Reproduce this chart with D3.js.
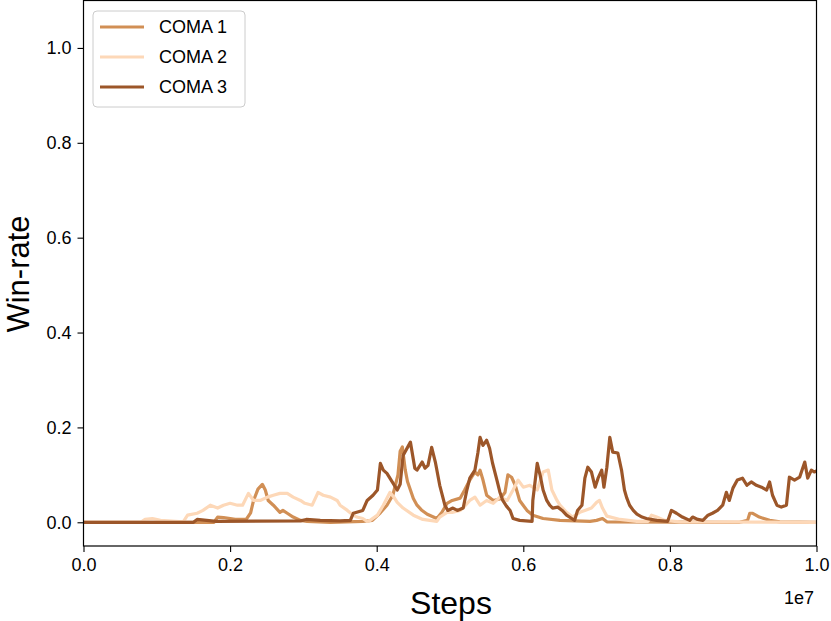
<!DOCTYPE html>
<html>
<head>
<meta charset="utf-8">
<script src="https://cdn.jsdelivr.net/npm/d3@7"></script>
<style>
  html, body { margin: 0; padding: 0; background: #fff; }
  svg { display: block; font-family: "Liberation Sans", Arial, sans-serif; }
</style>
</head>
<body>
<svg id="chart" width="831" height="621"></svg>
<script>
// ---- data (steps in millions, win-rate) ----
const seriesNames = ["COMA 1", "COMA 2", "COMA 3"];
const seriesColors = ["#d18f55", "#fdd8b8", "#9c5629"];

const coma1Steps = [0, 1.78, 1.83, 1.91, 2.07, 2.22, 2.28, 2.32, 2.38, 2.44, 2.48, 2.52, 2.59, 2.68, 2.72, 2.78, 2.86, 2.96, 3.05, 3.37, 3.81, 3.94, 4.05, 4.14, 4.22, 4.29, 4.32, 4.35, 4.39, 4.42, 4.46, 4.50, 4.55, 4.61, 4.69, 4.82, 4.89, 4.96, 5.03, 5.14, 5.20, 5.27, 5.34, 5.38, 5.41, 5.45, 5.50, 5.59, 5.68, 5.75, 5.79, 5.84, 5.89, 5.95, 6.05, 6.13, 6.27, 6.50, 6.91, 7.00, 7.08, 7.14, 8.95, 9.06, 9.09, 9.13, 9.22, 9.36, 9.50, 10.0];
const coma1Values = [0, 0, 0.011, 0.010, 0.006, 0.006, 0.020, 0.046, 0.070, 0.080, 0.068, 0.046, 0.036, 0.021, 0.025, 0.019, 0.011, 0.004, 0.002, 0.0, 0.002, 0.004, 0.020, 0.036, 0.057, 0.100, 0.150, 0.159, 0.110, 0.086, 0.068, 0.050, 0.036, 0.026, 0.017, 0.008, 0.021, 0.040, 0.046, 0.051, 0.068, 0.089, 0.106, 0.100, 0.110, 0.089, 0.057, 0.046, 0.049, 0.063, 0.100, 0.095, 0.078, 0.046, 0.025, 0.015, 0.008, 0.004, 0.002, 0.004, 0.008, 0.001, 0, 0.004, 0.019, 0.019, 0.011, 0.004, 0.001, 0];

const coma2Steps = [0, 0.78, 0.84, 0.94, 1.05, 1.25, 1.36, 1.42, 1.55, 1.63, 1.73, 1.83, 1.91, 2.00, 2.10, 2.17, 2.25, 2.32, 2.41, 2.51, 2.59, 2.68, 2.78, 2.86, 2.96, 3.02, 3.12, 3.20, 3.27, 3.37, 3.46, 3.50, 3.60, 3.68, 3.73, 3.81, 3.87, 3.91, 4.01, 4.09, 4.18, 4.23, 4.28, 4.36, 4.50, 4.63, 4.82, 4.86, 4.96, 5.04, 5.14, 5.20, 5.27, 5.34, 5.41, 5.50, 5.59, 5.68, 5.78, 5.86, 5.93, 6.00, 6.09, 6.19, 6.27, 6.34, 6.39, 6.46, 6.50, 6.59, 6.67, 6.77, 6.84, 6.93, 7.00, 7.04, 7.08, 7.14, 7.32, 7.55, 7.70, 7.75, 7.82, 7.93, 8.13, 10.0];
const coma2Values = [0, 0, 0.006, 0.008, 0.004, 0.002, 0.001, 0.015, 0.019, 0.025, 0.036, 0.030, 0.036, 0.040, 0.036, 0.036, 0.061, 0.046, 0.046, 0.053, 0.057, 0.061, 0.061, 0.053, 0.046, 0.040, 0.036, 0.063, 0.057, 0.053, 0.046, 0.036, 0.025, 0.015, 0.011, 0.008, 0.002, 0.004, 0.015, 0.036, 0.063, 0.054, 0.042, 0.030, 0.015, 0.006, 0.002, 0.011, 0.021, 0.021, 0.025, 0.034, 0.046, 0.053, 0.036, 0.046, 0.040, 0.053, 0.046, 0.068, 0.089, 0.074, 0.078, 0.068, 0.106, 0.110, 0.068, 0.046, 0.036, 0.021, 0.011, 0.021, 0.025, 0.030, 0.042, 0.046, 0.030, 0.013, 0.006, 0.002, 0.002, 0.015, 0.011, 0.004, 0.001, 0];

const coma3Steps = [0, 1.50, 1.55, 1.81, 2.96, 3.04, 3.23, 3.50, 3.64, 3.68, 3.81, 3.87, 3.95, 4.01, 4.05, 4.09, 4.14, 4.18, 4.28, 4.32, 4.36, 4.46, 4.52, 4.55, 4.62, 4.66, 4.70, 4.75, 4.80, 4.86, 4.93, 4.97, 5.04, 5.10, 5.18, 5.23, 5.27, 5.34, 5.38, 5.41, 5.45, 5.50, 5.54, 5.58, 5.64, 5.68, 5.72, 5.77, 5.82, 5.86, 5.95, 6.12, 6.13, 6.19, 6.23, 6.27, 6.32, 6.36, 6.40, 6.47, 6.53, 6.59, 6.66, 6.70, 6.74, 6.80, 6.84, 6.88, 6.93, 6.98, 7.02, 7.07, 7.10, 7.14, 7.18, 7.22, 7.29, 7.34, 7.38, 7.41, 7.45, 7.50, 7.55, 7.62, 7.68, 7.82, 7.97, 8.02, 8.09, 8.17, 8.27, 8.31, 8.38, 8.45, 8.52, 8.58, 8.65, 8.72, 8.77, 8.81, 8.86, 8.92, 8.99, 9.05, 9.11, 9.18, 9.25, 9.32, 9.36, 9.40, 9.46, 9.52, 9.59, 9.63, 9.70, 9.77, 9.84, 9.88, 9.93, 9.97, 10.0];
const coma3Values = [0, 0, 0.006, 0.002, 0.003, 0.006, 0.004, 0.003, 0.004, 0.019, 0.025, 0.046, 0.057, 0.068, 0.124, 0.110, 0.103, 0.093, 0.068, 0.080, 0.141, 0.169, 0.114, 0.110, 0.127, 0.114, 0.120, 0.158, 0.127, 0.078, 0.036, 0.025, 0.030, 0.025, 0.030, 0.068, 0.093, 0.110, 0.146, 0.179, 0.162, 0.173, 0.156, 0.125, 0.089, 0.064, 0.046, 0.034, 0.025, 0.008, 0.004, 0.002, 0.046, 0.124, 0.099, 0.068, 0.046, 0.036, 0.030, 0.032, 0.025, 0.015, 0.008, 0.004, 0.025, 0.036, 0.093, 0.116, 0.106, 0.074, 0.093, 0.110, 0.074, 0.116, 0.179, 0.148, 0.146, 0.110, 0.068, 0.052, 0.036, 0.025, 0.017, 0.011, 0.008, 0.004, 0.002, 0.025, 0.019, 0.011, 0.004, 0.011, 0.006, 0.004, 0.015, 0.019, 0.025, 0.036, 0.063, 0.046, 0.072, 0.089, 0.093, 0.078, 0.085, 0.078, 0.074, 0.068, 0.085, 0.057, 0.036, 0.032, 0.036, 0.095, 0.089, 0.095, 0.127, 0.093, 0.110, 0.106, 0.108];

const xTickValues = [0, 2e6, 4e6, 6e6, 8e6, 1e7];
const yTickValues = [0, 0.2, 0.4, 0.6, 0.8, 1.0];
const xLabel = "Steps";
const yLabel = "Win-rate";
const xOffsetText = "1e7";

// ---- layout ----
const svg = d3.select("#chart");
const margin = { left: 83.5, right: 831 - 816.5, top: 0.5, bottom: 621 - 546 };
const W = 831, H = 621;
const x = d3.scaleLinear().domain([0, 1e7]).range([margin.left, W - margin.right]);
const y = d3.scaleLinear().domain([-0.05, 1.1]).range([H - margin.bottom, margin.top]);

svg.append("defs").append("clipPath").attr("id", "clip")
  .append("rect")
  .attr("x", margin.left).attr("y", margin.top)
  .attr("width", W - margin.left - margin.right)
  .attr("height", H - margin.top - margin.bottom);

const series = [
  { name: seriesNames[0], color: seriesColors[0], steps: coma1Steps, values: coma1Values },
  { name: seriesNames[1], color: seriesColors[1], steps: coma2Steps, values: coma2Values },
  { name: seriesNames[2], color: seriesColors[2], steps: coma3Steps, values: coma3Values }
];

const line = d3.line()
  .x(d => x(d[0] * 1e6))
  .y(d => y(d[1]));

const gLines = svg.append("g").attr("clip-path", "url(#clip)");
series.forEach(s => {
  const pts = s.steps.map((st, i) => [st, s.values[i]]);
  gLines.append("path")
    .datum(pts)
    .attr("fill", "none")
    .attr("stroke", s.color)
    .attr("stroke-width", 3.2)
    .attr("stroke-linejoin", "round")
    .attr("stroke-linecap", "square")
    .attr("d", line);
});

// ---- axes ----
const xAxis = d3.axisBottom(x).tickValues(xTickValues)
  .tickFormat(d => (d / 1e7).toFixed(1)).tickSize(6).tickSizeOuter(0).tickPadding(6);
const yAxis = d3.axisLeft(y).tickValues(yTickValues)
  .tickFormat(d3.format(".1f")).tickSize(6).tickSizeOuter(0).tickPadding(6);

const gx = svg.append("g").attr("transform", `translate(0,${H - margin.bottom})`).call(xAxis);
const gy = svg.append("g").attr("transform", `translate(${margin.left},0)`).call(yAxis);
[gx, gy].forEach(g => {
  g.select(".domain").remove();
  g.selectAll(".tick line").attr("stroke", "#000").attr("stroke-width", 1.1);
  g.selectAll(".tick text").attr("fill", "#000").style("font-size", "18px")
    .style("font-family", "'Liberation Sans', Arial, sans-serif");
});

// frame
svg.append("rect")
  .attr("x", margin.left).attr("y", margin.top)
  .attr("width", W - margin.left - margin.right)
  .attr("height", H - margin.top - margin.bottom)
  .attr("fill", "none").attr("stroke", "#000").attr("stroke-width", 1.2);

// axis labels
svg.append("text")
  .attr("x", 451)
  .attr("y", 614)
  .attr("text-anchor", "middle")
  .style("font-size", "32px")
  .text(xLabel);

svg.append("text")
  .attr("transform", `translate(29,274) rotate(-90)`)
  .attr("text-anchor", "middle")
  .style("font-size", "31px")
  .text(yLabel);

svg.append("text")
  .attr("x", 814).attr("y", 604)
  .attr("text-anchor", "end")
  .style("font-size", "18px")
  .text(xOffsetText);

// ---- legend ----
const lg = svg.append("g");
lg.append("rect")
  .attr("x", 93).attr("y", 11)
  .attr("width", 152).attr("height", 96)
  .attr("rx", 4).attr("ry", 4)
  .attr("fill", "#fff").attr("fill-opacity", 0.8)
  .attr("stroke", "#cccccc").attr("stroke-width", 1);

const legendRows = d3.range(series.length);
lg.selectAll("line.leg").data(legendRows).join("line")
  .attr("class", "leg")
  .attr("x1", 100).attr("x2", 144)
  .attr("y1", i => 27 + i * 30).attr("y2", i => 27 + i * 30)
  .attr("stroke", i => series[i].color)
  .attr("stroke-width", 3);
lg.selectAll("text.leg").data(legendRows).join("text")
  .attr("class", "leg")
  .attr("x", 159)
  .attr("y", i => 27 + i * 30)
  .attr("dy", "0.35em")
  .style("font-size", "18px")
  .attr("fill", "#000")
  .text(i => series[i].name);
</script>
</body>
</html>
